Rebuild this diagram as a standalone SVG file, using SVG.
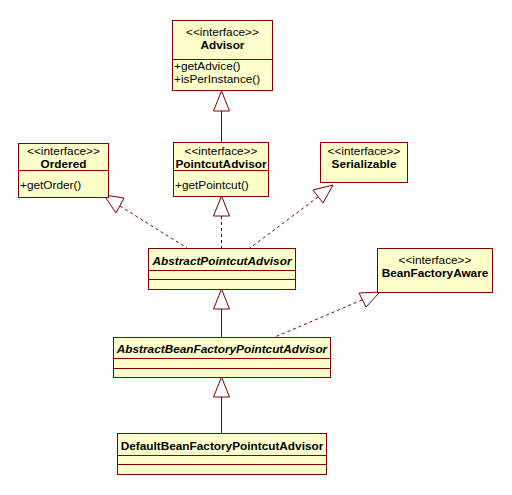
<svg xmlns="http://www.w3.org/2000/svg" width="512" height="495" viewBox="0 0 512 495">
<style>
.box{fill:#FFFFCC;stroke:#800000;stroke-width:1}
.sep{stroke:#800000;stroke-width:1}
.t{font-family:"Liberation Sans",Arial,sans-serif;font-size:11.8px;fill:#000}
.c{text-anchor:middle}
.b{font-weight:bold}
.i{font-style:italic}
.solid{stroke:#800000;stroke-width:1;fill:none}
.dash{stroke:#800000;stroke-width:1;fill:none;stroke-dasharray:3,3}
.tri{fill:#fff;stroke:#800000;stroke-width:1}
</style>
<rect width="512" height="495" fill="#fff"/>
<g id="connectors">
<line class="solid" x1="221.5" y1="111" x2="221.5" y2="142"/>
<polygon class="tri" points="221.5,91 213.5,111 229.5,111"/>
<line class="dash" x1="120" y1="206" x2="187" y2="248"/>
<polygon class="tri" points="104,195 124,198 116,213"/>
<line class="dash" x1="221.5" y1="216" x2="221.5" y2="248"/>
<polygon class="tri" points="221.5,196 213.5,216 229.5,216"/>
<line class="dash" x1="318" y1="197" x2="250" y2="248"/>
<polygon class="tri" points="333,185 313,190 323,203"/>
<line class="solid" x1="221.5" y1="309" x2="221.5" y2="337"/>
<polygon class="tri" points="221.5,289 213.5,309 229.5,309"/>
<line class="dash" x1="362" y1="300" x2="275" y2="337"/>
<polygon class="tri" points="380,292 359,293 366,307"/>
<line class="solid" x1="221.5" y1="397" x2="221.5" y2="433"/>
<polygon class="tri" points="221.5,377 213.5,397 229.5,397"/>
</g>
<g id="Advisor">
<rect class="box" x="172.5" y="20.5" width="100" height="70"/>
<line class="sep" x1="172.5" y1="59.5" x2="272.5" y2="59.5"/>
<text class="t c" x="222.5" y="36">&lt;&lt;interface&gt;&gt;</text>
<text class="t c b" x="222.5" y="49">Advisor</text>
<text class="t" x="174" y="70">+getAdvice()</text>
<text class="t" x="174" y="83">+isPerInstance()</text>
</g>
<g id="Ordered">
<rect class="box" x="18.5" y="143.5" width="90" height="54"/>
<line class="sep" x1="18.5" y1="170.5" x2="108.5" y2="170.5"/>
<text class="t c" x="63.5" y="155">&lt;&lt;interface&gt;&gt;</text>
<text class="t c b" x="63.5" y="168">Ordered</text>
<text class="t" x="20" y="189">+getOrder()</text>
</g>
<g id="PointcutAdvisor">
<rect class="box" x="173.5" y="142.5" width="95" height="54"/>
<line class="sep" x1="173.5" y1="170.5" x2="268.5" y2="170.5"/>
<text class="t c" x="221" y="155">&lt;&lt;interface&gt;&gt;</text>
<text class="t c b" x="221" y="168">PointcutAdvisor</text>
<text class="t" x="175" y="189">+getPointcut()</text>
</g>
<g id="Serializable">
<rect class="box" x="320.5" y="142.5" width="87" height="40"/>
<text class="t c" x="364" y="155">&lt;&lt;interface&gt;&gt;</text>
<text class="t c b" x="364" y="168">Serializable</text>
</g>
<g id="AbstractPointcutAdvisor">
<rect class="box" x="148.5" y="248.5" width="147" height="41"/>
<line class="sep" x1="148.5" y1="270.5" x2="295.5" y2="270.5"/>
<line class="sep" x1="148.5" y1="279.5" x2="295.5" y2="279.5"/>
<text class="t c b i" x="222" y="265">AbstractPointcutAdvisor</text>
</g>
<g id="BeanFactoryAware">
<rect class="box" x="377.5" y="248.5" width="115" height="44"/>
<text class="t c" x="435" y="264">&lt;&lt;interface&gt;&gt;</text>
<text class="t c b" x="435" y="277">BeanFactoryAware</text>
</g>
<g id="AbstractBeanFactoryPointcutAdvisor">
<rect class="box" x="113.5" y="337.5" width="217" height="40"/>
<line class="sep" x1="113.5" y1="358.5" x2="330.5" y2="358.5"/>
<line class="sep" x1="113.5" y1="368.5" x2="330.5" y2="368.5"/>
<text class="t c b i" x="222" y="353">AbstractBeanFactoryPointcutAdvisor</text>
</g>
<g id="DefaultBeanFactoryPointcutAdvisor">
<rect class="box" x="117.5" y="433.5" width="209" height="41"/>
<line class="sep" x1="117.5" y1="455.5" x2="326.5" y2="455.5"/>
<line class="sep" x1="117.5" y1="464.5" x2="326.5" y2="464.5"/>
<text class="t c b" x="222" y="450">DefaultBeanFactoryPointcutAdvisor</text>
</g>
</svg>
